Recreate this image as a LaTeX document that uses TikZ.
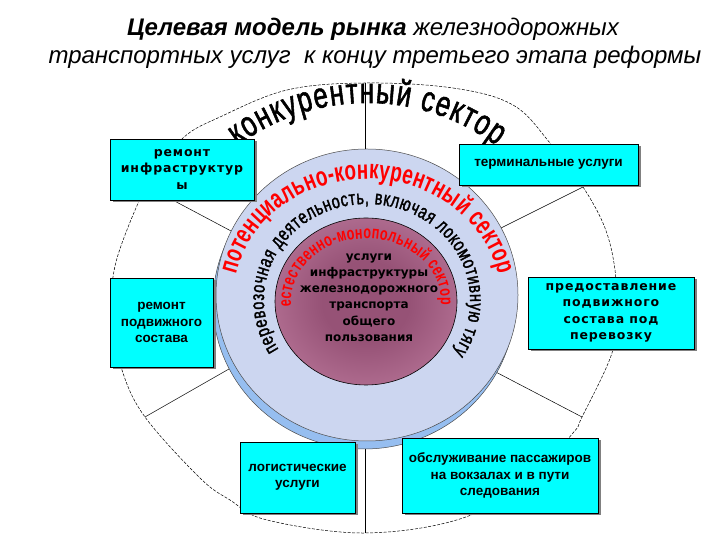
\documentclass[tikz,border=0pt]{standalone}
\usepackage{fontspec}
\setmainfont{Liberation Sans}
\newfontfamily\artfont[FakeStretch=0.7]{Liberation Sans}
\newfontfamily\artheavy[FakeStretch=0.72, FakeBold=1.5]{Liberation Sans}
\newfontfamily\widefont[LetterSpace=7]{DejaVu Sans}
\newfontfamily\plainfont{DejaVu Sans}
\usetikzlibrary{decorations.text,shadows}
\definecolor{boxcyan}{RGB}{0,255,255}
\definecolor{ringface}{RGB}{204,214,240}
\definecolor{ringside}{RGB}{150,190,240}
\definecolor{monoin}{RGB}{150,82,118}
\definecolor{monoout}{RGB}{218,152,186}
\pgfdeclareradialshading{monoshade}{\pgfpoint{0bp}{0bp}}{color(0bp)=(monoin); color(12bp)=(monoin); color(50bp)=(monoout)}
\tikzset{
  service/.style={draw=black, line width=0.6pt, fill=boxcyan, align=center, inner sep=0pt,
    drop shadow={shadow xshift=2.5pt, shadow yshift=-2.5pt, fill=black!50, opacity=1},
    font=\bfseries\fontsize{13.5}{16.5}\selectfont},
  wide/.style={font=\widefont\bfseries\fontsize{12.5}{16.5}\selectfont},
  spoke/.style={line width=0.5pt},
  border/.style={line width=0.5pt, dash pattern=on 3pt off 1.5pt}
}

\begin{document}
\begin{tikzpicture}[x=1pt,y=1pt]
    \useasboundingbox (0,0) rectangle (720,540);
    \coordinate (ring) at (367,245);
    \coordinate (ringBack) at (364,237);
    \coordinate (mono) at (366,238.5);
    \coordinate (arcs) at (367,240);
    \coordinate (compArc) at (367,235);
    \coordinate (topIn) at (365,380);
    \coordinate (topOut) at (365,457);
    \coordinate (botIn) at (365,120);
    \coordinate (botOut) at (365,7);
    \coordinate (ulIn) at (248,300);
    \coordinate (ulOut) at (150,352);
    \coordinate (llIn) at (236,175);
    \coordinate (llOut) at (145,123);
    \coordinate (urIn) at (489,306);
    \coordinate (urOut) at (583,353);
    \coordinate (lrIn) at (490,171);
    \coordinate (lrOut) at (582,123);

    \draw[border] plot[smooth cycle, tension=0.6] coordinates {(365,457) (453,452) (513,435) (550,397)
      (583,353) (605,312) (615,270) (616,230) (612,187) (582,123) (573,107) (530,62) (463,22) (365,7)
      (267,20) (230,40) (200,62) (145,123) (122,170) (113,220) (113,263) (125,305) (150,360) (183,402)
      (220,423) (287,450)};
    \draw[line width=0.8pt](topIn)--(topOut);
    \draw[line width=0.8pt](botIn)--(botOut);
    \draw[spoke](ulIn)--(ulOut);
    \draw[spoke](llIn)--(llOut);
    \draw[spoke](urIn)--(urOut);
    \draw[spoke](lrIn)--(lrOut);

    \draw[fill=ringside, draw=black!70, line width=0.5pt] (ringBack) ellipse[x radius=151, y radius=146];
    \draw[fill=ringface, draw=black!70, line width=0.5pt] (ring) ellipse[x radius=151, y radius=146];
    \shade[shading=monoshade] (mono) ellipse[x radius=91, y radius=83.5];
    \draw[line width=0.6pt] (mono) ellipse[x radius=91, y radius=83.5];

    \path[decorate, decoration={text along path, text align={fit to path},
      text={|\artheavy\fontsize{36}{36}\selectfont|конкурентный сектор}}]
      (compArc) ++(128:210 and 202) arc[start angle=128, end angle=52, x radius=210, y radius=202];
    \path[decorate, decoration={text along path, text align={fit to path},
      text={|\artfont\bfseries\fontsize{27}{27}\selectfont\color{red}|потенциально-конкурентный сектор}}]
      (arcs) ++(168:134 and 121) arc[start angle=168, end angle=12, x radius=134, y radius=121];
    \path[decorate, decoration={text along path, text align={fit to path},
      text={|\artheavy\fontsize{20}{20}\selectfont|перевозочная деятельность, включая локомотивную тягу}}]
      (arcs) ++(211:103 and 96) arc[start angle=211, end angle=-33, x radius=103, y radius=96];
    \path[decorate, decoration={text along path, text align={fit to path},
      text={|\artfont\bfseries\fontsize{18}{18}\selectfont\color{red}|естественно-монопольный сектор}}]
      (mono) ++(185:75 and 63) arc[start angle=185, end angle=-3, x radius=75, y radius=63];

    \node[align=center, font=\plainfont\bfseries\fontsize{12}{16.2}\selectfont] (infra) at (369,242.5)
      {услуги\\инфраструктуры\\железнодорожного\\транспорта\\общего\\пользования};

    \node[service, wide, minimum width=144, minimum height=61] (repInfra) at (182,370.5)
      {ремонт\\инфраструктур\\ы};
    \node[service, minimum width=179, minimum height=41] (terminal) at (548.5,375.5)
      {терминальные услуги};
    \node[service, minimum width=103, minimum height=89] (repStock) at (161.5,217.5)
      {ремонт\\подвижного\\состава};
    \node[service, wide, minimum width=166, minimum height=72] (supply) at (611,227)
      {предоставление\\подвижного\\состава под\\перевозку};
    \node[service, minimum width=115, minimum height=71] (logistics) at (297.5,62.5)
      {логистические\\услуги};
    \node[service, minimum width=196, minimum height=75] (passengers) at (500,64.5)
      {обслуживание пассажиров\\на вокзалах и в пути\\следования};

    \node[anchor=base, font=\itshape\fontsize{24}{24}\selectfont] (titleA) at (373,504)
      {\textbf{Целевая модель рынка} железнодорожных};
    \node[anchor=base, font=\itshape\fontsize{24}{24}\selectfont] (titleB) at (375,476)
      {транспортных услуг\ \ к концу третьего этапа реформы};
  \end{tikzpicture}
\end{document}
